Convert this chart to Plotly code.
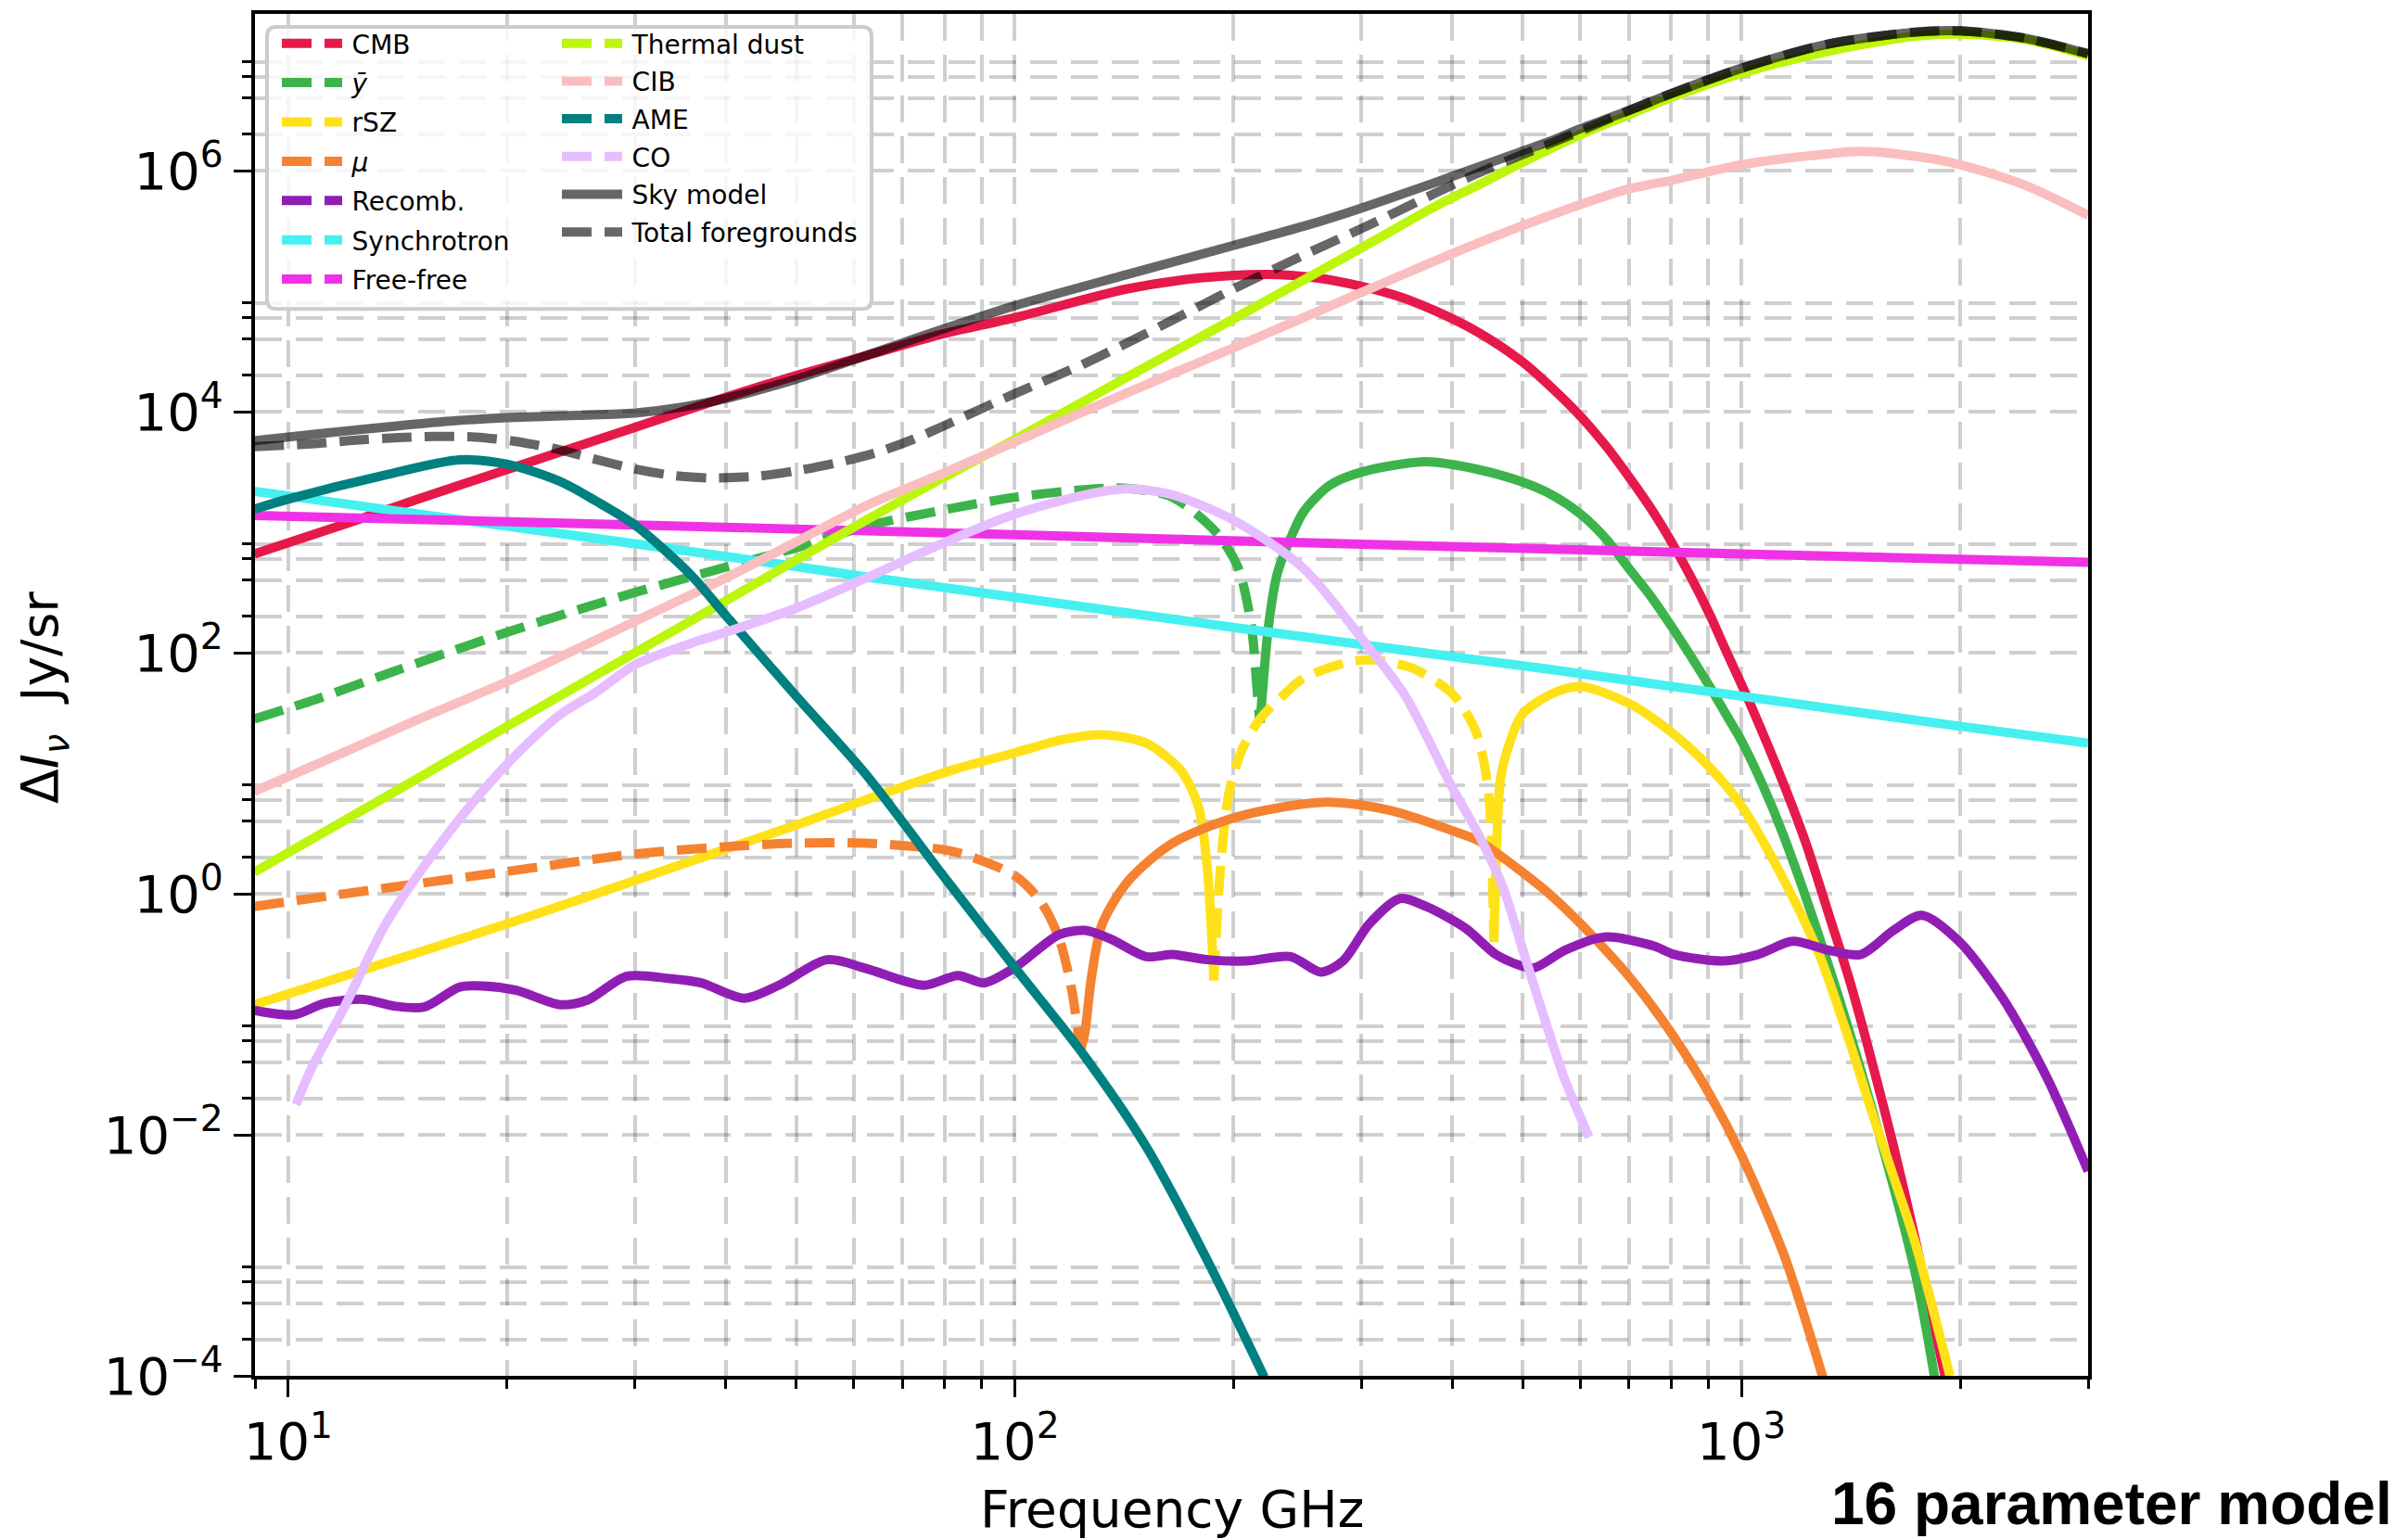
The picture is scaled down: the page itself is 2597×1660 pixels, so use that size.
import plotly.graph_objects as go

# ------------------------------------------------------------------ data
# frequencies in GHz, intensities in Jy/sr
cmb_f = [8.98, 12, 15, 20, 30, 40, 50, 62, 79, 100, 143, 180, 223, 260, 300, 340, 378, 434, 498, 548, 601, 650, 700, 750, 801, 850, 904, 950, 1024, 1145, 1230, 1314, 1409, 1510, 1620, 1734, 1909]
cmb_v = [661, 1175, 1862, 3311, 7413, 13180, 19950, 28840, 43650, 60260, 104700, 128800, 138000, 128800, 109600, 89130, 69180, 45710, 26300, 15850, 9120, 5248, 2884, 1585, 831.8, 436.5, 208.9, 107.2, 39.8, 7.94, 2.512, 0.724, 0.1905, 0.0417, 0.00794, 0.00138, 0.0000955]

ybar_neg_f = [8.98, 11, 13.6, 20, 30, 40, 50, 62.4, 79, 100, 123, 143, 164.8, 189.2, 202.8, 211.4, 215.9, 217.4]
ybar_neg_v = [28.2, 41.7, 66.1, 147.9, 316.2, 512.9, 741.3, 1122, 1514, 1950, 2239, 2317, 1950, 1000, 512.9, 173.8, 42.7, 26.3]
ybar_pos_f = [217.6, 218.9, 223.5, 229.8, 239.6, 249.7, 271.3, 300.3, 368, 434.6, 498, 548.7, 601, 650, 700, 750, 801, 850, 904, 950, 1000, 1070, 1145, 1315, 1510, 1735, 1844]
ybar_pos_v = [26.3, 42.7, 169.8, 457.1, 891.3, 1479, 2455, 3162, 3846, 3311, 2630, 2042, 1413, 891.3, 501.2, 295.1, 166, 95.5, 52.5, 31.6, 18.6, 7.94, 2.95, 0.265, 0.017, 0.000708, 0.0000977]

rsz_pos1_f = [8.98, 12.7, 20, 30, 40, 50, 62.4, 82.4, 100, 116.5, 131.9, 151.6, 169.4, 179, 184, 187.9]
rsz_pos1_v = [0.120, 0.234, 0.562, 1.288, 2.344, 3.715, 6.026, 10.72, 14.79, 19.05, 20.89, 17.78, 10.47, 5.248, 1.66, 0.191]
rsz_neg_f = [187.9, 191.9, 197.2, 205.6, 217.4, 236.3, 249.7, 286.8, 311.7, 353.1, 400, 428.8, 440.9, 450, 456.3]
rsz_neg_v = [0.191, 1.66, 6.918, 15.85, 28.18, 46.77, 61.66, 83.18, 87.1, 74.13, 45.71, 23.99, 13.49, 5.754, 0.398]
rsz_pos2_f = [456.3, 459.5, 465.9, 479, 499.3, 548.7, 601, 700, 801, 904, 1000, 1145, 1279, 1409, 1510, 1620, 1735, 1936]
rsz_pos2_v = [0.398, 1.66, 8.913, 17.38, 30.9, 45.71, 52.48, 38.02, 21.88, 11.22, 5.37, 1.288, 0.316, 0.0589, 0.0158, 0.00447, 0.00126, 0.0001]

mu_neg_f = [8.98, 13.6, 20, 30, 40, 50, 62.4, 70, 82.4, 100, 108.7, 114.9, 119.7, 123.1]
mu_neg_v = [0.785, 1.114, 1.531, 2.138, 2.455, 2.630, 2.630, 2.512, 2.239, 1.413, 0.851, 0.437, 0.162, 0.0501]
mu_pos_f = [123.1, 124.8, 127.5, 131.9, 143.4, 164.8, 202.8, 267.6, 329.5, 405.7, 434.6, 498, 548.7, 601, 700, 801, 904, 1000, 1145, 1300]
mu_pos_v = [0.0501, 0.0692, 0.204, 0.562, 1.288, 2.630, 4.365, 5.754, 4.898, 3.236, 2.754, 1.531, 0.955, 0.562, 0.2065, 0.0698, 0.0217, 0.00676, 0.001, 0.0000891]

recomb_f = [8.98, 10.2, 11.2, 12.7, 14.0, 15.4, 17.2, 18.5, 20.6, 23.7, 25.8, 29.2, 33.5, 37.0, 42.4, 47.4, 55.2, 62.4, 74.9, 83.5, 90.7, 100,
            114.9, 124.8, 135.7, 151.6, 164.8, 184, 208.5, 239.6, 263.9, 282.9, 307.4, 338.8, 368.1, 417.1, 459.5, 499.3, 520, 572.4,
            648.5, 755.3, 809.4, 942.8, 1053, 1177, 1315, 1459, 1619, 1771, 1993, 2289, 2630, 3000]
recomb_v = [0.108, 0.0991, 0.123, 0.133, 0.117, 0.115, 0.168, 0.172, 0.158, 0.120, 0.131, 0.2065, 0.198, 0.182, 0.136, 0.175, 0.284, 0.240, 0.174, 0.210, 0.182, 0.244,
            0.456, 0.497, 0.420, 0.301, 0.313, 0.284, 0.277, 0.301, 0.224, 0.277, 0.562, 0.912, 0.785, 0.518, 0.313, 0.251, 0.244, 0.341,
            0.438, 0.371, 0.313, 0.277, 0.313, 0.403, 0.341, 0.313, 0.497, 0.664, 0.403, 0.136, 0.0303, 0.0050]

sync_f = [8.98, 20, 40, 62.4, 100, 200, 434, 548, 1000, 2000, 3000]
sync_v = [2188, 1122, 631, 426.6, 288.4, 162.2, 87.1, 72.4, 43.65, 24.55, 17.78]

ff_f = [8.98, 30, 100, 300, 1000, 3000]
ff_v = [1380, 1148, 955, 794, 661, 562]

dust_f = [8.98, 15, 20, 30, 40, 50, 62.4, 79, 100, 143, 200, 300, 378, 434, 498, 601, 700, 801, 1000, 1314, 1734, 2000, 2454, 3000]
dust_v = [1.514, 8.913, 24.5, 100, 269, 589, 1259, 2754, 5888, 19500, 58880, 229100, 501200, 758600, 1161000, 1995000, 2911000, 4064000, 6427000, 9750000, 13060000, 13610000, 12300000, 8974000]

cib_f = [8.98, 12, 15, 20, 30, 40, 50, 62.4, 79, 100, 143, 200, 300, 378, 434, 498, 601, 700, 801, 1000, 1314, 1468, 1734, 2000, 2454, 3000]
cib_v = [7.08, 15.14, 27.54, 57.54, 182, 416.9, 831.8, 1660, 3020, 5623, 14450, 33880, 97720, 177800, 251200, 346700, 524800, 707900, 831800, 1122000, 1380000, 1445000, 1318000, 1122000, 758600, 426600]

ame_f = [8.98, 10, 13.6, 17.2, 20, 23.7, 26.5, 30, 35.9, 40, 50, 62.4, 79, 100, 123.1, 151.6, 184, 220.4]
ame_v = [1556, 1884, 2985, 3981, 3673, 2630, 1820, 1148, 436.5, 204.2, 43.7, 9.77, 1.51, 0.244, 0.0501, 0.00798, 0.000912, 0.0000977]

co_f = [10.25, 10.76, 11.86, 13.62, 15.64, 17.97, 20.64, 23.71, 26.49, 30, 35.9, 40, 50, 62.4, 79, 100, 124.8, 143.4, 164.8, 200, 249.7, 300, 344, 400, 434, 470, 498, 548.7, 572, 617]
co_v = [0.0178, 0.0355, 0.105, 0.562, 1.95, 5.754, 14.45, 30.9, 46.77, 79.43, 120.2, 147.9, 234.4, 416.9, 794.3, 1413, 2042, 2291, 2042, 1259, 501.2, 131.8, 44.67, 7.586, 3.162, 1.122, 0.372, 0.0589, 0.0282, 0.00955]

sky_f = [8.98, 10, 12, 14, 17, 20, 25, 30, 35, 40, 45, 50, 60, 70, 80, 100, 143, 200, 250, 300, 378, 434, 498, 548, 601, 700, 801, 1000, 1314, 1734, 2000, 2454, 3000]
sky_v = [5754, 6166, 6918, 7586, 8414, 8913, 9333, 9772, 10960, 12880, 15490, 18620, 26920, 37150, 48980, 75860, 138000, 239900, 346700, 489800, 794300, 1072000, 1445000, 1778000, 2239000, 3162000, 4365000, 7079000, 11220000, 14130000, 14450000, 12590000, 9333000]

fg_f = [8.98, 10.9, 12.4, 14.2, 15.85, 18.1, 20.5, 23.2, 26.3, 30, 34, 38.5, 44.2, 50, 56.8, 64.8, 72.4, 79, 100, 124.8, 164.8, 200, 249.7, 300, 378, 434, 498, 548, 601, 700, 801, 1000, 1314, 1734, 2000, 2454, 3000]
fg_v = [5129, 5433, 5821, 6095, 6237, 6166, 5689, 4955, 4074, 3350, 2951, 2818, 2917, 3236, 3758, 4624, 5888, 7413, 14130, 25120, 57540, 104700, 199500, 331100, 645700, 955000, 1349000, 1698000, 2138000, 3162000, 4365000, 7079000, 11220000, 14130000, 14450000, 12590000, 9333000]

# axis ticks
x_major = [10, 100, 1000]
x_major_text = ["10<sup>1</sup>", "10<sup>2</sup>", "10<sup>3</sup>"]
x_minor = [9, 20, 30, 40, 50, 60, 70, 80, 90, 200, 300, 400, 500, 600, 700, 800, 900, 2000, 3000]
y_major = [1e-4, 1e-2, 1, 1e2, 1e4, 1e6]
y_major_text = ["10<sup>\u22124</sup>", "10<sup>\u22122</sup>", "10<sup>0</sup>", "10<sup>2</sup>", "10<sup>4</sup>", "10<sup>6</sup>"]
y_minor = [2e-4, 4e-4, 6e-4, 8e-4, 2e-2, 4e-2, 6e-2, 8e-2, 2, 4, 6, 8, 200, 400, 600, 800,
           2e4, 4e4, 6e4, 8e4, 2e6, 4e6, 6e6, 8e6]

# ------------------------------------------------------------------ style
C = {
    "CMB": "#e6194b", "ybar": "#3cb44b", "rSZ": "#ffe119", "mu": "#f58231",
    "Recomb": "#911eb4", "Sync": "#46f0f0", "FF": "#f032e6", "Dust": "#bcf60c",
    "CIB": "#fabebe", "AME": "#008080", "CO": "#e6beff", "Sky": "rgba(0,0,0,0.6)",
}
LW = 10
DASH = "32px,14px"
GRID = "rgba(0,0,0,0.19)"
GDASH = "29px,15px"

fig = go.Figure()


def line(x, y, color, dash="solid"):
    fig.add_trace(go.Scatter(x=x, y=y, mode="lines", showlegend=False,
                             line=dict(color=color, width=LW, dash=dash, shape="spline", smoothing=0.8),
                             hoverinfo="skip"))


line(cmb_f, cmb_v, C["CMB"])
line(ybar_neg_f, ybar_neg_v, C["ybar"], DASH)
line(ybar_pos_f, ybar_pos_v, C["ybar"])
line(rsz_pos1_f, rsz_pos1_v, C["rSZ"])
line(rsz_neg_f, rsz_neg_v, C["rSZ"], DASH)
line(rsz_pos2_f, rsz_pos2_v, C["rSZ"])
line(mu_neg_f, mu_neg_v, C["mu"], DASH)
line(mu_pos_f, mu_pos_v, C["mu"])
line(recomb_f, recomb_v, C["Recomb"])
line(sync_f, sync_v, C["Sync"])
line(ff_f, ff_v, C["FF"])
line(dust_f, dust_v, C["Dust"])
line(cib_f, cib_v, C["CIB"])
line(ame_f, ame_v, C["AME"])
line(co_f, co_v, C["CO"])
line(sky_f, sky_v, C["Sky"])
line(fg_f, fg_v, C["Sky"], DASH)

# legend entries (legend handles only)
SP = "\u2009"
col1 = [("CMB", "CMB", DASH), ("<i>ȳ</i>", "ybar", DASH), ("rSZ", "rSZ", DASH), ("<i>μ</i>", "mu", DASH),
        ("Recomb.", "Recomb", DASH), ("Synchrotron", "Sync", DASH), ("Free-free", "FF", DASH)]
col2 = [("Thermal dust", "Dust", DASH), ("CIB", "CIB", DASH), ("AME", "AME", DASH), ("CO", "CO", DASH),
        ("Sky model", "Sky", "solid"), ("Total foregrounds", "Sky", DASH)]
for i, (name, key, dash) in enumerate(col1):
    fig.add_trace(go.Scatter(x=[None], y=[None], mode="lines", name=SP + name, legend="legend",
                             legendgroup="a%d" % i, line=dict(color=C[key], width=LW, dash=dash)))
for i, (name, key, dash) in enumerate(col2):
    fig.add_trace(go.Scatter(x=[None], y=[None], mode="lines", name=SP + name, legend="legend2",
                             legendgroup="b%d" % i, line=dict(color=C[key], width=LW, dash=dash)))

W, H = 2597, 1660
ML, MR, MT, MB = 275, 345, 11, 176
PW, PH = W - ML - MR, H - MT - MB


def px(xp):
    return (xp - ML) / PW


def py(yp):
    return (H - MB - yp) / PH


axis_common = dict(
    type="log", ticks="outside", ticklen=19, tickwidth=3, tickcolor="black",
    showline=True, linewidth=4, linecolor="black", mirror=True,
    showgrid=True, gridcolor=GRID, gridwidth=4, griddash=GDASH, zeroline=False,
    tickfont=dict(family="DejaVu Sans", size=56, color="black"),
)
fig.update_xaxes(range=[0.954243, 3.477121], tickmode="array", tickvals=x_major, ticktext=x_major_text,
                 minor=dict(tickmode="array", tickvals=x_minor, ticks="outside", ticklen=10, tickwidth=3,
                            tickcolor="black", showgrid=True, gridcolor=GRID, gridwidth=4, griddash=GDASH),
                 **axis_common)
fig.update_yaxes(range=[-4, 7.30103], tickmode="array", tickvals=y_major, ticktext=y_major_text,
                 minor=dict(tickmode="array", tickvals=y_minor, ticks="outside", ticklen=10, tickwidth=3,
                            tickcolor="black", showgrid=True, gridcolor=GRID, gridwidth=4, griddash=GDASH),
                 **axis_common)

# legend frame (rounded box)
x0, x1 = px(288), px(940)
y0, y1 = py(330), py(25)
rx, ry = 10 / PW, 10 / PH
path = (f"M{x0+rx},{y1} L{x1-rx},{y1} Q{x1},{y1} {x1},{y1-ry} L{x1},{y0+ry} Q{x1},{y0} {x1-rx},{y0} "
        f"L{x0+rx},{y0} Q{x0},{y0} {x0},{y0+ry} L{x0},{y1-ry} Q{x0},{y1} {x0+rx},{y1} Z")
fig.add_shape(type="path", path=path, xref="paper", yref="paper", layer="above",
              fillcolor="rgba(255,255,255,0.8)", line=dict(color="#cccccc", width=4))

legend_common = dict(xanchor="left", yanchor="top", bgcolor="rgba(0,0,0,0)", borderwidth=0,
                     font=dict(family="DejaVu Sans", size=28, color="black"), itemwidth=65,
                     traceorder="grouped", orientation="v")
fig.update_layout(
    width=W, height=H,
    margin=dict(l=ML, r=MR, t=MT, b=MB, pad=0),
    paper_bgcolor="white", plot_bgcolor="white",
    font=dict(family="DejaVu Sans", size=28, color="black"),
    showlegend=True,
    legend=dict(x=px(299), y=py(18), tracegroupgap=3, **legend_common),
    legend2=dict(x=px(601), y=py(18), tracegroupgap=1.3, **legend_common),
)

fig.add_annotation(text="Frequency GHz", xref="paper", yref="paper", x=0.5, y=py(1628),
                   xanchor="center", yanchor="middle", showarrow=False,
                   font=dict(family="DejaVu Sans", size=55, color="black"))
fig.add_annotation(text="Δ<i>I</i><sub><i>ν</i></sub>\u00a0\u00a0Jy/sr", xref="paper", yref="paper",
                   x=px(47), y=py(751), xanchor="center", yanchor="middle", textangle=-90, showarrow=False,
                   font=dict(family="DejaVu Sans", size=55, color="black"))
fig.add_annotation(text="<b>16 parameter model</b>", xref="paper", yref="paper", x=px(2582), y=py(1622),
                   xanchor="right", yanchor="middle", showarrow=False,
                   font=dict(family="Liberation Sans", size=64, color="black"))

fig.write_html("out.html", config={"displayModeBar": False})
